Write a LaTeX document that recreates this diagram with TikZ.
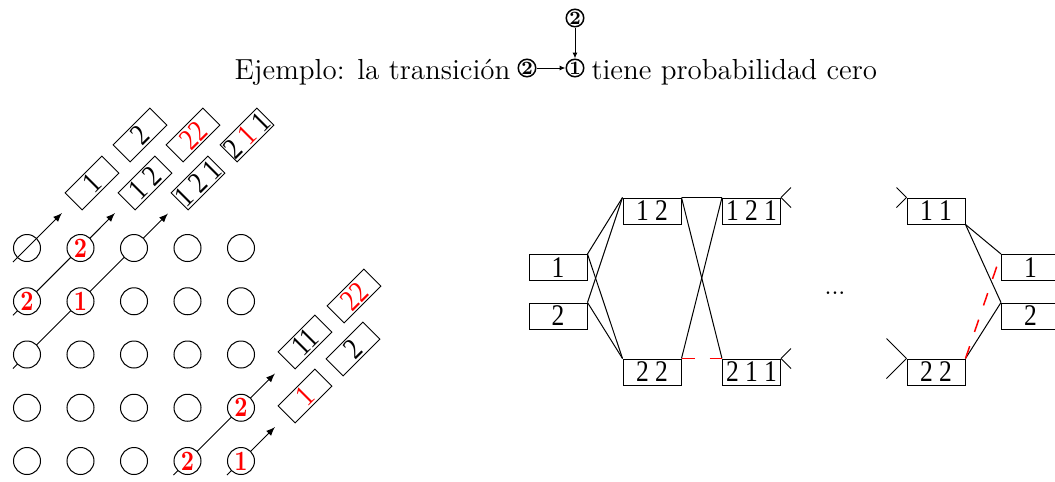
\documentclass[tikz,border=0pt]{standalone}
\usepackage{fontspec}
\newfontfamily\tnr[FakeStretch=0.85]{Liberation Serif}
\newfontfamily\lmnegra[FakeStretch=0.82]{lmroman10-bold.otf}
\usetikzlibrary{calc,arrows.meta}

\begin{document}
\begin{tikzpicture}[x=0.4pt,y=-0.4pt,
  bola/.style={circle,draw,fill=white,minimum size=10.8pt,inner sep=0pt},
  rojo/.style={text=red,font=\lmnegra\fontsize{11.2}{11.2}\selectfont},
  caja/.style={draw,rotate=45,minimum width=20.8pt,minimum height=9.6pt,inner sep=0.2pt,font=\tnr\fontsize{12}{12}\selectfont},
  estado/.style={draw,minimum width=23.2pt,minimum height=10.4pt,inner sep=0.5pt,font=\tnr\fontsize{12}{12}\selectfont},
  mini/.style={circle,draw,line width=0.6pt,minimum size=7pt,inner sep=0pt,font=\fontsize{7.5}{7.5}\selectfont\bfseries},
  flecha/.style={-{Latex[length=3.6pt,width=2.8pt]}},
  flechita/.style={-{Latex[length=2.4pt,width=2pt]}},
  raya/.style={red,line width=0.6pt,dash pattern=on 5.2pt off 6pt}]
  \useasboundingbox (0,0) rectangle (1055,481);
  \node[mini] (t1) at (575,68) {1};
  \node[mini] (t2) at (527,68) {2};
  \node[mini] (t3) at (575,18) {2};
  \draw[flechita] (t2) -- (t1);
  \draw[flechita] (t3) -- (t1);
  \node[anchor=base east,inner sep=0pt,font=\fontsize{11.6}{14}\selectfont] (tizq) at (511,79) {Ejemplo: la transición};
  \node[anchor=base west,inner sep=0pt,font=\fontsize{11.6}{14}\selectfont] (tder) at (591,79) {tiene probabilidad cero};
  \coordinate (p1) at (62,213);
  \coordinate (p2) at (115,213);
  \coordinate (p3) at (168,213.5);
  \coordinate (p4) at (275,373.5);
  \coordinate (p5) at (275,427);
  \foreach \r in {1,...,5}
    \foreach \c in {1,...,5}
      \coordinate (c\r\c) at ({27+53.5*(\c-1)},{248+53.25*(\r-1)});
  \draw[flecha] ($(c21)+(-14,14)$) -- (p2);
  \draw[flecha] ($(c31)+(-14,14)$) -- (p3);
  \draw[flecha] ($(c54)+(-14,14)$) -- (p4);
  \draw[flecha] ($(c55)+(-14,14)$) -- (p5);
  \foreach \r in {1,...,5}
    \foreach \c in {1,...,5}
      \node[bola] (n\r\c) at (c\r\c) {};
  \draw[flecha] ($(c11)+(-14,14)$) -- (p1);
  \node[rojo] at (n12) {2};
  \node[rojo] at (n21) {2};
  \node[rojo] at (n22) {1};
  \node[rojo] at (n45) {2};
  \node[rojo] at (n54) {2};
  \node[rojo] at (n55) {1};
  \node[caja] (u1) at (92,183) {1};
  \node[caja] (u2) at (140,135) {2};
  \node[caja] (u12) at (145,183) {1 2};
  \node[caja] (u22) at (193,135) {\textcolor{red}{22}};
  \node[caja] (u121) at (198,183) {1 2 1};
  \node[caja] (u211) at (247,135) {2 \textcolor{red}{1} 1};
  \node[caja] (d11) at (305,342) {11};
  \node[caja] (d22) at (354,296) {\textcolor{red}{22}};
  \node[caja] (d2) at (353,349) {2};
  \node[caja] (d1) at (305,396) {\textcolor{red}{1}};
  \node[estado] (b1) at (558,267.5) {1};
  \node[estado] (b2) at (558,316) {2};
  \node[estado] (b12) at (652,211) {1 2};
  \node[estado] (b22) at (652,372) {2 2};
  \node[estado] (b121) at (751.5,211) {1 2 1};
  \node[estado] (b211) at (751.5,372) {2 1 1};
  \node[anchor=base] (pts) at (835,294) {...};
  \node[estado] (b11) at (936,211) {1 1};
  \node[estado] (b22r) at (936,372) {2 2};
  \node[estado] (r1) at (1030.5,267.5) {1};
  \node[estado] (r2) at (1030.5,316) {2};
  \draw (b1.north east) -- (b12.north west);
  \draw (b1.north east) -- (b22.north west);
  \draw (b2.north east) -- (b12.north west);
  \draw (b2.north east) -- (b22.north west);
  \draw (b12.north east) -- (b121.north west);
  \draw (b12.north east) -- (b211.north west);
  \draw (b22.north east) -- (b121.north west);
  \draw[raya] (b22.north east) -- (b211.north west);
  \draw (b121.north east) -- ++(10,-10);
  \draw (b121.north east) -- ++(10,10);
  \draw (b211.north east) -- ++(10,-10);
  \draw (b211.north east) -- ++(10,10);
  \draw (b11.north west) -- ++(-10,-10);
  \draw (b11.north west) -- ++(-10,10);
  \draw (b22r.north west) -- ++(-20,-20);
  \draw (b22r.north west) -- ++(-20,20);
  \draw (b11.south east) -- (r1.north west);
  \draw (b11.south east) -- (r2.north west);
  \draw (b22r.north east) -- (r2.north west);
  \draw[raya] (b22r.north east) -- (r1.north west);
\end{tikzpicture}
\end{document}
